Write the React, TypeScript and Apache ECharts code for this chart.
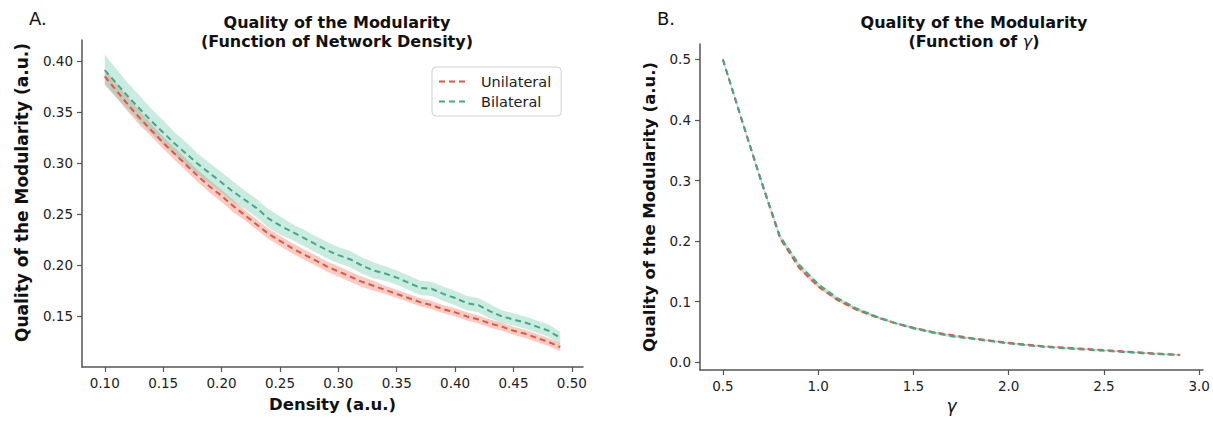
import React, { useEffect, useRef } from "react";
import * as echarts from "echarts";

// ---------- Panel A data: modularity quality vs network density ----------
const densityValues = [
  0.1, 0.11, 0.12, 0.13, 0.14, 0.15, 0.16, 0.17, 0.18, 0.19,
  0.2, 0.21, 0.22, 0.23, 0.24, 0.25, 0.26, 0.27, 0.28, 0.29,
  0.3, 0.31, 0.32, 0.33, 0.34, 0.35, 0.36, 0.37, 0.38, 0.39,
  0.4, 0.41, 0.42, 0.43, 0.44, 0.45, 0.46, 0.47, 0.48, 0.49,
];
const unilateralA = [
  0.385, 0.371, 0.357, 0.344, 0.332, 0.32, 0.309, 0.298, 0.287, 0.277,
  0.268, 0.258, 0.249, 0.24, 0.231, 0.224, 0.217, 0.211, 0.205, 0.199,
  0.194, 0.189, 0.184, 0.18, 0.176, 0.172, 0.168, 0.164, 0.161, 0.157,
  0.154, 0.15, 0.147, 0.143, 0.14, 0.136, 0.133, 0.129, 0.125, 0.12,
];
const bilateralA = [
  0.391, 0.378, 0.365, 0.353, 0.341, 0.33, 0.319, 0.309, 0.299, 0.29,
  0.281, 0.272, 0.264, 0.256, 0.246, 0.239, 0.233, 0.227, 0.221, 0.215,
  0.21, 0.206, 0.2, 0.195, 0.192, 0.188, 0.183, 0.178, 0.177, 0.172,
  0.168, 0.163, 0.161, 0.155, 0.15, 0.147, 0.144, 0.14, 0.136, 0.129,
];
const unilateralErrA = [
  0.007, 0.007, 0.007, 0.007, 0.006, 0.006, 0.006, 0.006, 0.006, 0.006,
  0.006, 0.006, 0.005, 0.005, 0.005, 0.005, 0.005, 0.005, 0.005, 0.005,
  0.005, 0.005, 0.005, 0.005, 0.004, 0.004, 0.004, 0.004, 0.004, 0.004,
  0.004, 0.004, 0.004, 0.004, 0.004, 0.004, 0.004, 0.004, 0.004, 0.004,
];
const bilateralErrA = [
  0.015, 0.014, 0.013, 0.013, 0.012, 0.012, 0.011, 0.011, 0.01, 0.01,
  0.01, 0.01, 0.009, 0.009, 0.009, 0.009, 0.008, 0.008, 0.008, 0.008,
  0.008, 0.008, 0.008, 0.008, 0.007, 0.007, 0.007, 0.007, 0.007, 0.007,
  0.007, 0.007, 0.007, 0.007, 0.006, 0.006, 0.006, 0.006, 0.006, 0.006,
];

// ---------- Panel B data: modularity quality vs gamma ----------
const gammaValues = [
  0.5, 0.6, 0.7, 0.8, 0.9, 1.0, 1.1, 1.2, 1.3, 1.4, 1.5, 1.6, 1.7,
  1.8, 1.9, 2.0, 2.1, 2.2, 2.3, 2.4, 2.5, 2.6, 2.7, 2.8, 2.9,
];
const unilateralB = [
  0.5, 0.399, 0.3, 0.205, 0.156, 0.125, 0.103, 0.087, 0.075, 0.065, 0.057, 0.05, 0.045,
  0.04, 0.036, 0.032, 0.029, 0.026, 0.024, 0.022, 0.02, 0.018, 0.016, 0.014, 0.012,
];
const bilateralB = [
  0.5, 0.4, 0.301, 0.208, 0.161, 0.129, 0.106, 0.089, 0.076, 0.065, 0.056, 0.049, 0.043,
  0.039, 0.035, 0.031, 0.028, 0.025, 0.023, 0.021, 0.019, 0.017, 0.015, 0.013, 0.012,
];
const unilateralErrB = [
  0.002, 0.002, 0.002, 0.002, 0.002, 0.002, 0.002, 0.002, 0.001, 0.001, 0.001, 0.001, 0.001,
  0.001, 0.001, 0.001, 0.001, 0.001, 0.001, 0.001, 0.001, 0.001, 0.001, 0.001, 0.001,
];
const bilateralErrB = [
  0.002, 0.002, 0.002, 0.003, 0.003, 0.003, 0.002, 0.002, 0.002, 0.002, 0.002, 0.002, 0.002,
  0.001, 0.001, 0.001, 0.001, 0.001, 0.001, 0.001, 0.001, 0.001, 0.001, 0.001, 0.001,
];

// ---------- Tick labels ----------
const ticksAx = [0.1, 0.15, 0.2, 0.25, 0.3, 0.35, 0.4, 0.45, 0.5];
const ticksAy = [0.15, 0.2, 0.25, 0.3, 0.35, 0.4];
const ticksBx = [0.5, 1.0, 1.5, 2.0, 2.5, 3.0];
const ticksBy = [0.0, 0.1, 0.2, 0.3, 0.4, 0.5];

const seriesNames = ["Unilateral", "Bilateral"];

const RED = "#e2553f";
const GREEN = "#40a98a";
const RED_FILL = "#f07c66";
const GREEN_FILL = "#66c6a6";
const FONT = "DejaVu Sans";
const AXIS_COLOR = "#555";

function bandSeries(xs: number[], ys: number[], errs: number[], fill: string, axisIdx: number, opacity: number) {
  const data = xs.map((x, i) => [x, ys[i] - errs[i], ys[i] + errs[i]]);
  return {
    type: "custom",
    coordinateSystem: "cartesian2d",
    xAxisIndex: axisIdx,
    yAxisIndex: axisIdx,
    silent: true,
    z: 1,
    encode: { x: 0, y: [1, 2] },
    data,
    renderItem: (params: any, api: any) => {
      if (params.dataIndex !== 0) return null;
      const upper = data.map((d) => api.coord([d[0], d[2]]));
      const lower = data.map((d) => api.coord([d[0], d[1]])).reverse();
      return {
        type: "polygon",
        shape: { points: upper.concat(lower) },
        style: { fill, opacity },
      };
    },
  };
}

function lineSeries(name: string, xs: number[], ys: number[], color: string, axisIdx: number) {
  return {
    name,
    type: "line",
    xAxisIndex: axisIdx,
    yAxisIndex: axisIdx,
    data: xs.map((x, i) => [x, ys[i]]),
    symbol: "none",
    showSymbol: false,
    z: 3,
    lineStyle: { color, width: 2, type: [6, 4] },
    itemStyle: { color },
  };
}

function makeAxis(gridIndex: number, min: number, max: number, ticks: number[], digits: number, name: string, extra: any) {
  return {
    type: "value",
    gridIndex,
    min,
    max,
    splitLine: { show: false },
    axisLine: { show: true, onZero: false, lineStyle: { color: AXIS_COLOR, width: 1.5 } },
    axisTick: { show: true, length: 5, customValues: ticks, lineStyle: { color: AXIS_COLOR, width: 1.2 } },
    axisLabel: {
      customValues: ticks,
      formatter: (v: number) => v.toFixed(digits),
      fontFamily: FONT,
      fontSize: 13.5,
      color: "#222",
      margin: 9,
    },
    name,
    nameLocation: "middle",
    ...extra,
  };
}

export default function App() {
  const ref = useRef<HTMLDivElement>(null);

  useEffect(() => {
    if (!ref.current) return;
    const chart = echarts.init(ref.current, null, { renderer: "svg" });

    const option: any = {
      animation: false,
      backgroundColor: "#ffffff",
      grid: [
        { left: 82, top: 40, width: 501, height: 327 },
        { left: 700, top: 44, width: 503, height: 326 },
      ],
      xAxis: [
        makeAxis(0, 0.0805, 0.5095, ticksAx, 2, "Density (a.u.)", {
          nameGap: 29,
          nameTextStyle: { fontFamily: FONT, fontSize: 16.5, fontWeight: "bold", color: "#111" },
        }),
        makeAxis(1, 0.38, 3.02, ticksBx, 1, "γ", {
          nameGap: 27,
          nameTextStyle: { fontFamily: FONT, fontSize: 17, fontStyle: "italic", color: "#111" },
        }),
      ],
      yAxis: [
        makeAxis(0, 0.1005, 0.4205, ticksAy, 2, "Quality of the Modularity (a.u.)", {
          nameGap: 52,
          nameTextStyle: {
            fontFamily: FONT,
            fontSize: 17,
            fontWeight: "bold",
            color: "#111",
            padding: [0, 0, 0, 22],
          },
        }),
        makeAxis(1, -0.0128, 0.5255, ticksBy, 1, "Quality of the Modularity (a.u.)", {
          nameGap: 42,
          nameTextStyle: { fontFamily: FONT, fontSize: 16.5, fontWeight: "bold", color: "#111" },
        }),
      ],
      legend: {
        data: seriesNames,
        orient: "vertical",
        left: 432,
        top: 67,
        padding: [7, 10, 7, 6],
        itemWidth: 29,
        itemHeight: 14,
        itemGap: 5,
        borderColor: "#d0d0d0",
        borderWidth: 1,
        borderRadius: 4,
        backgroundColor: "#fff",
        itemStyle: { opacity: 0 },
        textStyle: { fontFamily: FONT, fontSize: 14.5, color: "#222", padding: [0, 0, 0, 8] },
      },
      graphic: [
        {
          type: "text",
          x: 29,
          y: 9,
          style: { text: "A.", font: `18px ${FONT}`, fill: "#111" },
        },
        {
          type: "text",
          x: 657,
          y: 9,
          style: { text: "B.", font: `18px ${FONT}`, fill: "#111" },
        },
        {
          type: "text",
          x: 337,
          y: 13,
          style: {
            text: "Quality of the Modularity\n(Function of Network Density)",
            font: `bold 16px ${FONT}`,
            lineHeight: 19,
            align: "center",
            verticalAlign: "top",
            fill: "#111",
          },
        },
        {
          type: "text",
          x: 974,
          y: 13,
          style: {
            text: "{b|Quality of the Modularity}\n{b|(Function of }{g|γ}{b|)}",
            align: "center",
            verticalAlign: "top",
            rich: {
              b: { font: `bold 16px ${FONT}`, fill: "#111", lineHeight: 19 },
              g: { font: `italic 16px ${FONT}`, fill: "#111", lineHeight: 19 },
            },
          },
        },
      ],
      series: [
        bandSeries(densityValues, unilateralA, unilateralErrA, RED_FILL, 0, 0.4),
        bandSeries(densityValues, bilateralA, bilateralErrA, GREEN_FILL, 0, 0.35),
        lineSeries(seriesNames[0], densityValues, unilateralA, RED, 0),
        lineSeries(seriesNames[1], densityValues, bilateralA, GREEN, 0),
        bandSeries(gammaValues, unilateralB, unilateralErrB, RED_FILL, 1, 0.4),
        bandSeries(gammaValues, bilateralB, bilateralErrB, GREEN_FILL, 1, 0.35),
        lineSeries(seriesNames[0], gammaValues, unilateralB, RED, 1),
        lineSeries(seriesNames[1], gammaValues, bilateralB, GREEN, 1),
      ],
    };

    chart.setOption(option);
    return () => chart.dispose();
  }, []);

  return (
    <div
      ref={ref}
      style={{ position: "fixed", left: 0, top: 0, width: 1213, height: 424, background: "#fff" }}
    />
  );
}
